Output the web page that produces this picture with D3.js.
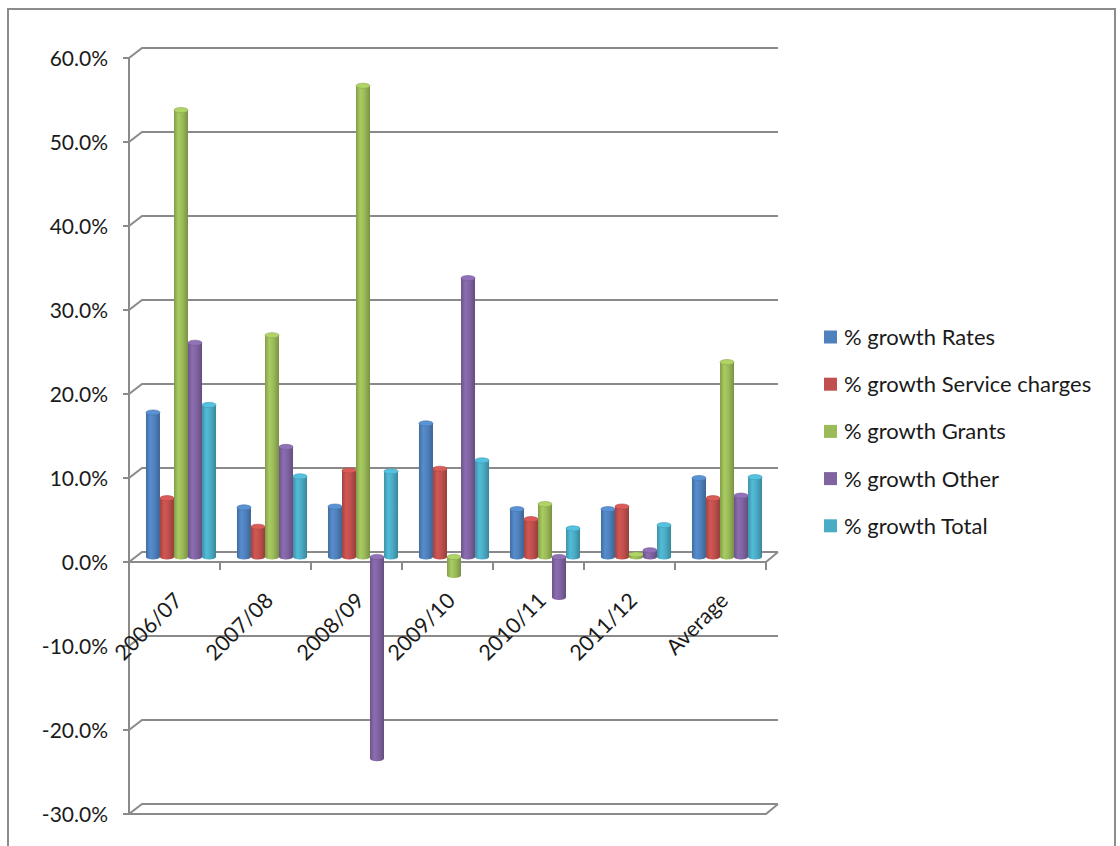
<!DOCTYPE html>
<html>
<head>
<meta charset="utf-8">
<script src="https://cdn.jsdelivr.net/npm/d3@7"></script>
<style>
  body { margin: 0; background: #fff; }
  svg text { font-family: Lato, "Open Sans", sans-serif; fill: #1a1a1a; }
</style>
</head>
<body>
<div id="main"></div>
<script>
// chart data (percent)
const categories = ["2006/07", "2007/08", "2008/09", "2009/10", "2010/11", "2011/12", "Average"];
const seriesNames = ["% growth Rates", "% growth Service charges", "% growth Grants", "% growth Other", "% growth Total"];
const rates          = [17.2, 5.9, 6.0, 15.9, 5.7, 5.7, 9.4];
const serviceCharges = [7.0, 3.6, 10.3, 10.5, 4.5, 6.0, 7.0];
const grants         = [53.2, 26.4, 56.1, -2.2, 6.3, 0.3, 23.2];
const other          = [25.5, 13.1, -24.0, 33.2, -4.8, 0.8, 7.3];
const total          = [18.1, 9.6, 10.2, 11.5, 3.4, 3.8, 9.5];
const seriesColors = ["#4f81bd", "#c0504d", "#9bbb59", "#8064a2", "#4bacc6"];
const yTicks = [-30, -20, -10, 0, 10, 20, 30, 40, 50, 60];

const ctx = {
    w: 1120,
    h: 846,
    left: 129,
    right: 766,
    top: 58,
    bottom: 814,
    DEPTH_X: 13,   // back wall offset
    DEPTH_Y: -10,
    GRID: "#8a8a8a",
};

const seriesValues = [rates, serviceCharges, grants, other, total];

function createViz(){
    const svg = d3.select("#main").append("svg")
        .attr("width", ctx.w)
        .attr("height", ctx.h);

    svg.append("rect").attr("x", 8).attr("y", 9)
       .attr("width", 1107).attr("height", 860)
       .attr("fill", "#fff").attr("stroke", "#8c8c8c").attr("stroke-width", 2);

    const y = d3.scaleLinear().domain([-30, 60]).range([ctx.bottom, ctx.top]);
    const x = d3.scaleBand().domain(categories).range([ctx.left, ctx.right])
                .paddingInner(0.23).paddingOuter(0.115);
    const xs = d3.scaleBand().domain(d3.range(seriesNames.length)).range([0, x.bandwidth()]);

    // gradients for the cylinders
    const defs = svg.append("defs");
    seriesColors.forEach(function(c, i){
        const g = defs.append("linearGradient").attr("id", "cyl" + i)
            .attr("x1", "0%").attr("x2", "100%").attr("y1", "0%").attr("y2", "0%");
        const base = d3.color(c);
        g.append("stop").attr("offset", "0%").attr("stop-color", base.darker(0.5));
        g.append("stop").attr("offset", "30%").attr("stop-color", base.brighter(0.25));
        g.append("stop").attr("offset", "60%").attr("stop-color", base);
        g.append("stop").attr("offset", "100%").attr("stop-color", base.darker(0.7));
    });

    // walls and gridlines
    const grid = svg.append("g").attr("stroke", ctx.GRID).attr("stroke-width", 2).attr("fill", "none");
    yTicks.forEach(function(t){
        const yf = y(t);
        grid.append("path")
            .attr("d", "M" + ctx.left + "," + yf + "L" + (ctx.left + ctx.DEPTH_X) + "," + (yf + ctx.DEPTH_Y) +
                       "H" + (ctx.right + ctx.DEPTH_X - 1));
        grid.append("line").attr("x1", ctx.left - 6).attr("x2", ctx.left).attr("y1", yf).attr("y2", yf);
    });
    grid.append("line").attr("x1", ctx.left).attr("x2", ctx.left).attr("y1", y(60)).attr("y2", y(-30));
    // floor edges (0% and -30%)
    [0, -30].forEach(function(t){
        const yf = y(t);
        grid.append("path")
            .attr("d", "M" + ctx.left + "," + yf + "H" + ctx.right + "L" + (ctx.right + ctx.DEPTH_X - 1) + "," + (yf + ctx.DEPTH_Y));
    });
    // category ticks on the 0% line
    d3.range(1, categories.length + 1).forEach(function(i){
        const xx = ctx.left + i * x.step();
        grid.append("line").attr("x1", xx).attr("x2", xx).attr("y1", y(0)).attr("y2", y(0) + 8);
    });

    // y labels
    svg.append("g").selectAll("text").data(yTicks).enter().append("text")
        .attr("x", 108).attr("y", d => y(d)).attr("dy", "0.36em")
        .attr("text-anchor", "end").attr("font-size", 21)
        .text(d => d.toFixed(1) + "%");

    // category labels
    svg.append("g").selectAll("text").data(categories).enter().append("text")
        .attr("text-anchor", "end").attr("font-size", 21.5)
        .attr("transform", d => "translate(" + (x(d) + x.bandwidth() / 2 + 9) + ",602) rotate(-45)")
        .text(d => d);

    // bars as cylinders, sitting half way into the depth
    const dx = ctx.DEPTH_X / 2, dy = ctx.DEPTH_Y / 2;
    const bars = [];
    categories.forEach(function(c, ci){
        seriesValues.forEach(function(vals, si){
            bars.push({cat: c, s: si, v: vals[ci]});
        });
    });
    const rx = xs.bandwidth() / 2, ry = 2.6;
    const g = svg.append("g");
    bars.forEach(function(b){
        const x0 = x(b.cat) + xs(b.s) + dx;
        const y0 = y(0) + dy, y1 = y(b.v) + dy;
        const yt = Math.min(y0, y1), yb = Math.max(y0, y1);
        const fill = "url(#cyl" + b.s + ")";
        g.append("ellipse").attr("cx", x0 + rx).attr("cy", yb).attr("rx", rx).attr("ry", ry).attr("fill", fill);
        g.append("rect").attr("x", x0).attr("y", yt).attr("width", xs.bandwidth()).attr("height", yb - yt).attr("fill", fill);
        g.append("ellipse").attr("cx", x0 + rx).attr("cy", yt).attr("rx", rx).attr("ry", ry)
         .attr("fill", d3.color(seriesColors[b.s]).brighter(0.35))
         .attr("stroke", d3.color(seriesColors[b.s]).darker(0.3)).attr("stroke-width", 0.6);
    });

    // legend
    const leg = svg.append("g").selectAll("g").data(seriesNames).enter().append("g")
        .attr("transform", (d, i) => "translate(824," + (337 + i * 47.2) + ")");
    leg.append("rect").attr("x", 0).attr("y", -6.5).attr("width", 13).attr("height", 13)
       .attr("fill", (d, i) => seriesColors[i]);
    leg.append("text").attr("x", 20).attr("dy", "0.36em").attr("font-size", 22).text(d => d);
}

createViz();
</script>
</body>
</html>
